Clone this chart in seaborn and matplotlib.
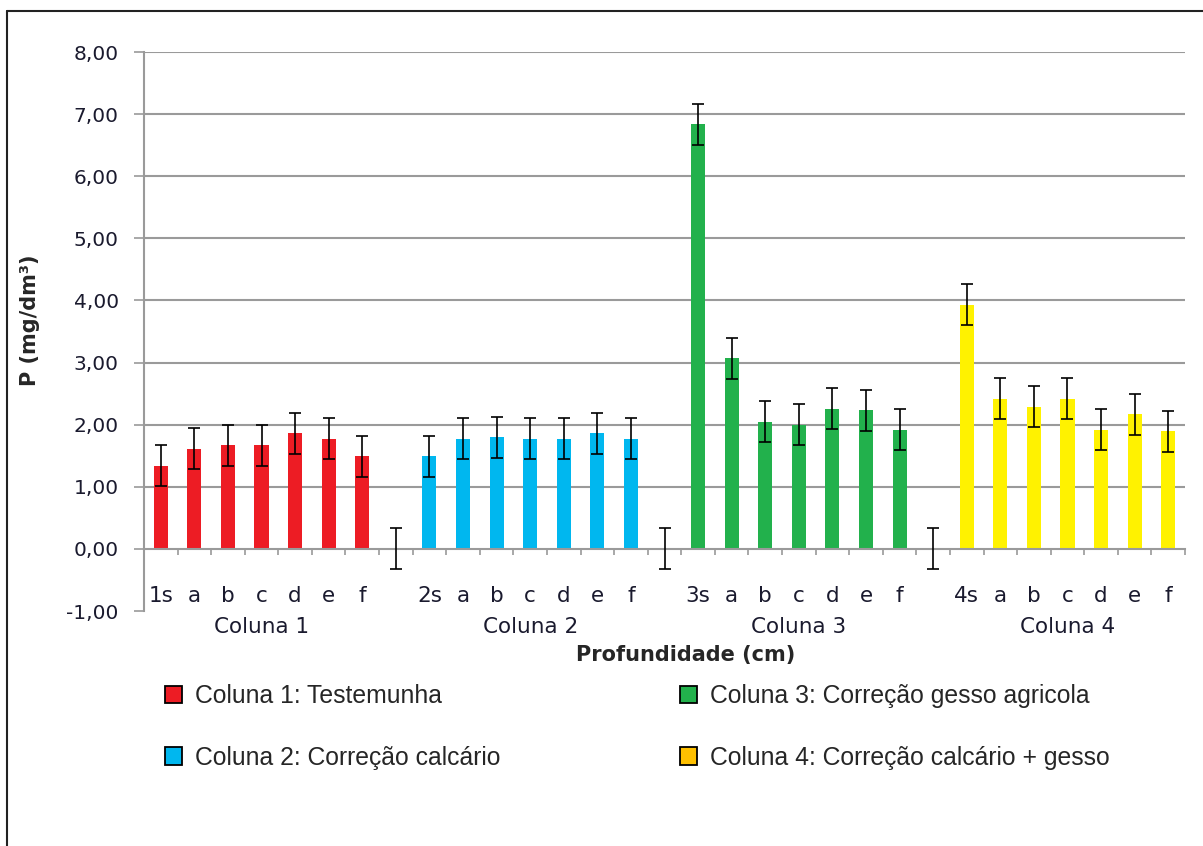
import numpy as np
import pandas as pd
import matplotlib
matplotlib.use("Agg")
import matplotlib.pyplot as plt
import matplotlib.transforms as mtransforms
from matplotlib.patches import Patch
from matplotlib.lines import Line2D
import seaborn as sns

# Dados: P (mg/dm3) por profundidade
rotulos = ["s", "a", "b", "c", "d", "e", "f"]
colunas = ["Coluna 1", "Coluna 2", "Coluna 3", "Coluna 4"]
valores_col1 = [1.34, 1.61, 1.67, 1.67, 1.86, 1.77, 1.49]
valores_col2 = [1.49, 1.77, 1.80, 1.77, 1.77, 1.86, 1.77]
valores_col3 = [6.84, 3.07, 2.05, 2.00, 2.26, 2.23, 1.92]
valores_col4 = [3.93, 2.42, 2.29, 2.42, 1.92, 2.17, 1.89]
erro = 0.33

legendas = ["Coluna 1: Testemunha", "Coluna 2: Correção calcário",
            "Coluna 3: Correção gesso agricola", "Coluna 4: Correção calcário + gesso"]
cores_barras = ["#ED1C24", "#00B7EF", "#22B14C", "#FFF200"]
cores_legenda = ["#ED1C24", "#00B7EF", "#22B14C", "#FFC000"]

# 1. Montar a tabela: 7 barras por coluna + 1 posição vazia entre colunas
linhas = []
todas = [valores_col1, valores_col2, valores_col3, valores_col4]
pos = 0
posicoes_erro, valores_erro, etiquetas = [], [], []
for i, (nome, vals) in enumerate(zip(colunas, todas)):
    for j, v in enumerate(vals):
        linhas.append({"pos": pos, "valor": v, "coluna": nome})
        posicoes_erro.append(pos)
        valores_erro.append(v)
        etiquetas.append(f"{i + 1}{rotulos[j]}" if j == 0 else rotulos[j])
        pos += 1
    if i < len(colunas) - 1:
        # posição vazia (aparece só a barra de erro em zero)
        posicoes_erro.append(pos)
        valores_erro.append(0.0)
        etiquetas.append("")
        pos += 1
df = pd.DataFrame(linhas)

# 2. Figura
sns.set_style("white")
plt.rcParams["font.family"] = ["DejaVu Sans"]

fig = plt.figure(figsize=(12.03, 8.46), dpi=100)
ax = fig.add_axes([144 / 1203, 1 - 611 / 846, (1185 - 144) / 1203, (611 - 52) / 846])

sns.barplot(data=df, x="pos", y="valor", hue="coluna", palette=cores_barras,
            native_scale=True, width=0.42, dodge=False, legend=False,
            saturation=1, linewidth=0, ax=ax)

ax.errorbar(posicoes_erro, valores_erro, yerr=erro, fmt="none", ecolor="black",
            elinewidth=1.2, capsize=4.5, capthick=1.2, zorder=5)

# 3. Eixos
ax.set_xlim(-0.5, pos - 0.5)
ax.set_ylim(-1, 8)
ax.set_yticks(np.arange(-1, 9, 1))
ax.set_yticklabels([f"{v:.2f}".replace(".", ",") for v in np.arange(-1, 9, 1)], fontsize=14.5)
for y in range(1, 9):
    ax.axhline(y, color="#9A9A9A", linewidth=1.5, zorder=0)

ax.spines["top"].set_visible(False)
ax.spines["right"].set_visible(False)
ax.spines["bottom"].set_position(("data", 0))
for s in ["left", "bottom"]:
    ax.spines[s].set_color("#9A9A9A")
    ax.spines[s].set_linewidth(1.5)

ax.tick_params(axis="y", left=True, direction="out", length=7.2, width=1.2,
               color="#9A9A9A", pad=11, labelcolor="#1a1a2e")
ax.set_xticks(posicoes_erro)
ax.set_xticklabels(etiquetas, fontsize=15.5)
ax.set_xticks(np.arange(0.5, pos, 1), minor=True)
ax.tick_params(axis="x", which="major", bottom=True, length=0, pad=27, labelcolor="#1a1a2e")
ax.tick_params(axis="x", which="minor", bottom=True, direction="out", length=4.5,
               width=1.2, color="#9A9A9A")
ax.set_xlabel("")
ax.set_ylabel("")

# Nome das colunas embaixo de cada grupo
trans = mtransforms.blended_transform_factory(ax.transData, fig.transFigure)
for i, nome in enumerate(colunas):
    ax.text(3 + 8 * i, 1 - 627 / 846, nome, transform=trans, ha="center", va="center",
            fontsize=15.5, color="#1a1a2e")

fig.text(686 / 1203, 1 - 655 / 846, "Profundidade (cm)", ha="center", va="center",
         fontsize=15, fontweight="bold")
fig.text(30 / 1203, 1 - 320 / 846, "P (mg/dm³)", ha="center", va="center",
         rotation=90, fontsize=15, fontweight="bold")

# 4. Legenda em duas colunas
handles = [Patch(facecolor=c, edgecolor="black", linewidth=1.3) for c in cores_legenda]
for k, x0 in enumerate([165, 680]):
    leg = fig.legend(handles=handles[2 * k:2 * k + 2], labels=legendas[2 * k:2 * k + 2],
                     loc="center left", bbox_to_anchor=(x0 / 1203, 1 - 727 / 846),
                     frameon=False, borderpad=0, borderaxespad=0, handlelength=0.7,
                     handleheight=0.7, handletextpad=0.5, labelspacing=1.5,
                     prop={"family": "Liberation Sans", "size": 17.8})

# Moldura externa (só topo e esquerda aparecem)
fig.add_artist(Line2D([7 / 1203, 1], [1 - 11 / 846, 1 - 11 / 846], color="#222222",
                      linewidth=1.5, transform=fig.transFigure))
fig.add_artist(Line2D([7 / 1203, 7 / 1203], [0, 1 - 11 / 846], color="#222222",
                      linewidth=1.5, transform=fig.transFigure))

fig.savefig("out.png", dpi=100)
